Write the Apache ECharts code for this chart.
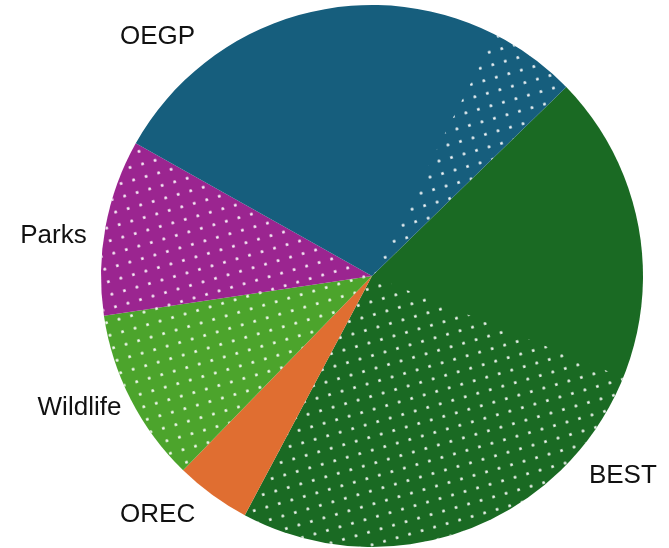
<!DOCTYPE html>
<html>
<head>
<meta charset="utf-8">
<script src="https://cdn.jsdelivr.net/npm/echarts@6/dist/echarts.min.js"></script>
<style>
  html, body { margin: 0; padding: 0; background: #ffffff; }
  #chart { width: 669px; height: 548px; }
</style>
</head>
<body>
<div id="chart"></div>
<script>
// Program shares, in percent of the total, listed clockwise.
var categories = ['BEST', 'OREC', 'Wildlife', 'Parks', 'OEGP'];
// Part of each share drawn plain, and part drawn with the dot pattern.
var plainShare  = [18.4, 4.5, 0, 0, 24.4];
var dottedShare = [26.7, 0, 10.4, 10.5, 5.2];

var colors = ['#1a6a23', '#e06e31', '#4ca42c', '#9b2590', '#165e7d'];

// Layout
var CENTER = [372, 276];
var RADIUS = 271;
var START_ANGLE = 44.2;          // degrees, ECharts convention
var LABEL_DIST = RADIUS + 50;
var labelAngleShift = { BEST: 1.7, OREC: 5.8, Wildlife: 2.8, Parks: -3.3, OEGP: -34.5 };

var totals = categories.map(function (c, i) { return plainShare[i] + dottedShare[i]; });
var grand = totals.reduce(function (a, b) { return a + b; }, 0);

var dotDecal = {
  symbol: 'circle',
  symbolSize: 1,
  color: 'rgba(255,255,255,0.92)',
  dashArrayX: [2.4, 9.4],
  dashArrayY: [2.4, 9.4],
  rotation: -0.276
};

var baseData = categories.map(function (c, i) {
  return { name: c, value: totals[i], itemStyle: { color: colors[i] } };
});

var overlayData = [];
categories.forEach(function (c, i) {
  overlayData.push({ name: c + ' plain', value: plainShare[i],
    itemStyle: { color: 'rgba(0,0,0,0)', decal: { symbol: 'none' } } });
  overlayData.push({ name: c + ' dotted', value: dottedShare[i],
    itemStyle: { color: 'rgba(0,0,0,0)', decal: dotDecal } });
});

function labelPos(idx) {
  var cum = 0;
  for (var k = 0; k < idx; k++) cum += totals[k];
  var clockStart = 90 - START_ANGLE;
  var a = clockStart + (cum + totals[idx] / 2) / grand * 360 + labelAngleShift[categories[idx]];
  var rad = a * Math.PI / 180;
  return [CENTER[0] + LABEL_DIST * Math.sin(rad), CENTER[1] - LABEL_DIST * Math.cos(rad)];
}

var chart = echarts.init(document.getElementById('chart'), null, { renderer: 'canvas' });
chart.setOption({
  animation: false,
  backgroundColor: '#ffffff',
  series: [
    {
      type: 'pie',
      center: CENTER,
      radius: RADIUS,
      startAngle: START_ANGLE,
      clockwise: true,
      silent: true,
      itemStyle: { borderWidth: 0 },
      label: {
        show: true,
        position: 'outside',
        alignTo: 'none',
        overflow: 'none',
        color: '#111111',
        fontFamily: '"Liberation Sans", Arial, sans-serif',
        fontSize: 26
      },
      labelLine: { show: false },
      labelLayout: function (params) {
        var p = labelPos(params.dataIndex);
        return { x: p[0], y: p[1], align: 'center', verticalAlign: 'middle' };
      },
      data: baseData
    },
    {
      type: 'pie',
      center: CENTER,
      radius: RADIUS,
      startAngle: START_ANGLE,
      clockwise: true,
      silent: true,
      itemStyle: { borderWidth: 0 },
      label: { show: false },
      labelLine: { show: false },
      data: overlayData
    }
  ]
});
</script>
</body>
</html>
